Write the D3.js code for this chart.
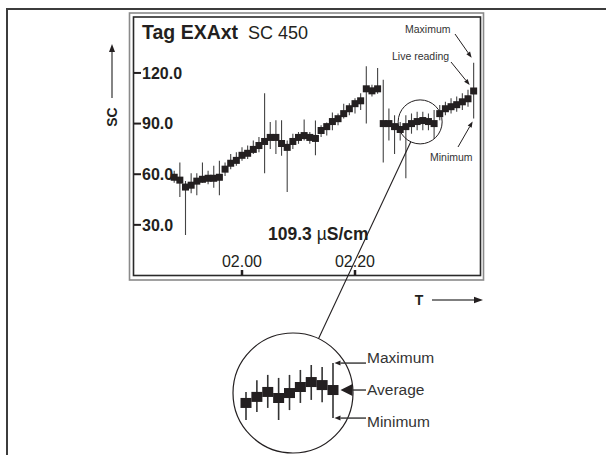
<!DOCTYPE html>
<html>
<head>
<meta charset="utf-8">
<script src="https://cdn.jsdelivr.net/npm/d3@7"></script>
<style>
	body { margin: 0; background: #fff; }
	svg { font-family: "Liberation Sans", Arial, Helvetica, sans-serif; }
</style>
</head>
<body>
<script>

	// minutes after midnight, one reading per minute
	var minutes = [108, 109, 110, 111, 112, 113, 114, 115, 116, 117, 118, 119, 120, 121, 122, 123, 124, 125,
		126, 127, 128, 129, 130, 131, 132, 133, 134, 135, 136, 137, 138, 139, 140, 141, 142, 143,
		144, 145, 146, 147, 148, 149, 150, 151, 152, 153, 154, 155, 156, 157, 158, 159, 160, 161];

	var average = [58.2, 56.5, 52.4, 53.5, 55.9, 57, 57.6, 57.6, 58.2, 63, 66.5, 68.2, 71.2, 72.4, 74.7, 77, 79.4, 81.8,
		81.8, 78.2, 75.9, 79.4, 81.8, 82.9, 81.8, 81.2, 85.9, 88.2, 91.2, 92.9, 95.9, 98.8, 101.8, 103.5, 110.6, 109.4,
		110.6, 90, 90, 88.2, 86.5, 88.2, 90, 91.2, 91.8, 91.2, 90, 95.9, 98.8, 100, 101.2, 102.9, 104.7, 109.3];

	var maximum = [62, 67, 56, 60.6, 60.6, 67, 62, 65, 68, 67, 72, 73, 76, 77, 80, 82, 108, 91,
		92, 92, 80, 84, 85, 92.4, 85, 91.8, 89, 90.6, 96.5, 96, 101.8, 102, 105, 108, 124, 113,
		122.9, 116, 99, 95, 91, 95, 96, 97, 97, 96, 98, 101, 103, 105, 106, 108, 110, 126];

	var minimum = [55, 46.5, 24, 48.8, 47.6, 55, 54, 52, 47.6, 59, 63, 65, 68, 69, 72, 73, 60.6, 75,
		72, 71, 49.4, 75, 78, 80, 78, 71.2, 82, 83, 86, 89, 93, 95, 96, 98, 90, 106,
		107.6, 67, 80, 72, 80, 57.6, 84, 86, 86, 86, 81, 92, 95, 96, 97, 98, 100, 93];

	var yTicks = [30, 60, 90, 120];
	var yTickLabels = ["30.0", "60.0", "90.0", "120.0"];
	var xTicks = [120, 140];
	var xTickLabels = ["02.00", "02.20"];

	// the enlarged detail in the big circle
	var zoomAverage = [86.2, 88.4, 90.2, 88, 89.8, 92, 93.8, 92.7, 90.9];
	var zoomMaximum = [90.2, 94.5, 96.4, 95.3, 96.4, 98.2, 100, 99.3, 100.7];
	var zoomMinimum = [80, 82.9, 84.4, 80, 83.6, 86.2, 87.3, 86.5, 80.7];

	var liveReading = 109.3;

	var ink = "#231f20";

	var data = minutes.map(function(m, i) {
		return { t: m, avg: average[i], hi: maximum[i], lo: minimum[i] };
	});

	var svg = d3.select("body").append("svg")
		.attr("width", 606)
		.attr("height", 455);

	function arrow(x1, y1, x2, y2, len, wid, color, sw) {
		var a = Math.atan2(y2 - y1, x2 - x1),
			bx = x2 - len * Math.cos(a),
			by = y2 - len * Math.sin(a),
			px = Math.sin(a) * wid / 2,
			py = -Math.cos(a) * wid / 2;
		svg.append("line")
			.attr("x1", x1).attr("y1", y1)
			.attr("x2", bx).attr("y2", by)
			.style("stroke", color)
			.style("stroke-width", sw);
		svg.append("path")
			.attr("d", "M" + x2 + "," + y2 + "L" + (bx + px) + "," + (by + py) + "L" + (bx - px) + "," + (by - py) + "Z")
			.style("fill", ink);
	}

	// outer page frame
	svg.append("rect")
		.attr("x", 7).attr("y", 9)
		.attr("width", 640).attr("height", 480)
		.style("fill", "none")
		.style("stroke", "#3c3c3c")
		.style("stroke-width", 2);

	// display frame, double line
	svg.append("rect")
		.attr("x", 129.5).attr("y", 13)
		.attr("width", 354).attr("height", 267)
		.style("fill", "none")
		.style("stroke", "#8a8a8a")
		.style("stroke-width", 1.6);

	svg.append("rect")
		.attr("x", 133.5).attr("y", 17)
		.attr("width", 347).attr("height", 258.5)
		.style("fill", "none")
		.style("stroke", "#2a2a2a")
		.style("stroke-width", 1.6);

	var x = d3.scaleLinear()
		.domain([120, 140])
		.range([242, 355]);

	var y = d3.scaleLinear()
		.domain([0, 150])
		.range([275.5, 22.3]);

	// title
	svg.append("text")
		.attr("x", 142)
		.attr("y", 38.5)
		.style("font-size", "19.5px")
		.style("font-weight", "bold")
		.style("fill", ink)
		.text("Tag EXAxt");

	svg.append("text")
		.attr("x", 248)
		.attr("y", 38.5)
		.style("font-size", "18px")
		.style("fill", ink)
		.text("SC 450");

	// y axis ticks
	var yg = svg.append("g").attr("class", "y axis");
	yg.selectAll("line")
		.data(yTicks)
		.enter().append("line")
		.attr("x1", 134).attr("x2", 141)
		.attr("y1", function(d) { return y(d); })
		.attr("y2", function(d) { return y(d); })
		.style("stroke", ink)
		.style("stroke-width", 2);

	yg.selectAll("text")
		.data(yTicks)
		.enter().append("text")
		.attr("x", 142)
		.attr("y", function(d) { return y(d); })
		.attr("dy", "0.36em")
		.style("font-size", "16px")
		.style("font-weight", "bold")
		.style("fill", ink)
		.text(function(d, i) { return yTickLabels[i]; });

	// x axis ticks
	var xg = svg.append("g").attr("class", "x axis");
	xg.selectAll("line")
		.data(xTicks)
		.enter().append("line")
		.attr("x1", function(d) { return x(d); })
		.attr("x2", function(d) { return x(d); })
		.attr("y1", 270).attr("y2", 275.5)
		.style("stroke", ink)
		.style("stroke-width", 2.5);

	xg.selectAll("text")
		.data(xTicks)
		.enter().append("text")
		.attr("x", function(d) { return x(d); })
		.attr("y", 266.5)
		.style("font-size", "16px")
		.style("text-anchor", "middle")
		.style("fill", ink)
		.text(function(d, i) { return xTickLabels[i]; });

	// live value
	var live = svg.append("text")
		.attr("x", 268)
		.attr("y", 240)
		.style("font-size", "17.5px")
		.style("font-weight", "bold")
		.style("fill", ink);
	live.append("tspan").text(liveReading.toFixed(1) + " ");
	live.append("tspan").style("font-weight", "normal").text("\u00b5");
	live.append("tspan").text("S/cm");

	// min / max bars and average blocks
	var candles = svg.selectAll("g.candle")
		.data(data)
		.enter().append("g")
		.attr("class", "candle");

	candles.append("line")
		.attr("x1", function(d) { return x(d.t); })
		.attr("x2", function(d) { return x(d.t); })
		.attr("y1", function(d) { return y(d.hi); })
		.attr("y2", function(d) { return y(d.lo); })
		.style("stroke", "#444")
		.style("stroke-width", 1.1);

	candles.append("rect")
		.attr("x", function(d) { return x(d.t) - 3.5; })
		.attr("y", function(d) { return y(d.avg) - 3.5; })
		.attr("width", 7)
		.attr("height", 7)
		.style("fill", ink);

	// labels for the last reading
	var last = data[data.length - 1],
		lx = x(last.t);

	var small = [
		{ text: "Maximum", x: 405, y: 33 },
		{ text: "Live reading", x: 392, y: 60 },
		{ text: "Minimum", x: 430, y: 161 }
	];

	svg.selectAll("text.note")
		.data(small)
		.enter().append("text")
		.attr("class", "note")
		.attr("x", function(d) { return d.x; })
		.attr("y", function(d) { return d.y; })
		.style("font-size", "10.5px")
		.style("fill", "#333")
		.text(function(d) { return d.text; });

	arrow(455, 34, lx - 2, y(last.hi) - 5, 6, 4.5, ink, 1);
	arrow(451, 62, lx - 4, y(last.avg) - 6, 6, 4.5, ink, 1);
	arrow(458, 147, lx - 1, y(last.lo) + 3, 6, 4.5, ink, 1);

	// axis names
	svg.append("text")
		.attr("transform", "translate(117,117) rotate(-90)")
		.style("font-size", "14px")
		.style("font-weight", "bold")
		.style("text-anchor", "middle")
		.style("fill", ink)
		.text("SC");
	arrow(112, 98, 112, 44, 8, 6, "#333", 1.2);

	svg.append("text")
		.attr("x", 419)
		.attr("y", 305)
		.style("font-size", "14px")
		.style("font-weight", "bold")
		.style("text-anchor", "middle")
		.style("fill", ink)
		.text("T");
	arrow(432, 300, 483, 300, 9, 6.5, "#555", 1.5);

	// magnifier
	var sc = { x: x(151) + 3, y: y(91), r: 22 },
		bc = { x: 293, y: 393, r: 60 };

	svg.append("circle")
		.attr("cx", sc.x).attr("cy", sc.y).attr("r", sc.r)
		.style("fill", "none")
		.style("stroke", ink)
		.style("stroke-width", 1);

	var dx = bc.x - sc.x, dy = bc.y - sc.y, dl = Math.sqrt(dx * dx + dy * dy);
	svg.append("line")
		.attr("x1", sc.x + dx / dl * sc.r).attr("y1", sc.y + dy / dl * sc.r)
		.attr("x2", bc.x - dx / dl * bc.r).attr("y2", bc.y - dy / dl * bc.r)
		.style("stroke", ink)
		.style("stroke-width", 1.1);

	svg.append("circle")
		.attr("cx", bc.x).attr("cy", bc.y).attr("r", bc.r)
		.style("fill", "none")
		.style("stroke", ink)
		.style("stroke-width", 1.2);

	var zx = d3.scaleLinear()
		.domain([0, zoomAverage.length - 1])
		.range([246, 333]);

	var zy = d3.scaleLinear()
		.domain([80, 100])
		.range([420, 365]);

	var zoomed = svg.selectAll("g.zoom")
		.data(zoomAverage)
		.enter().append("g")
		.attr("class", "zoom");

	zoomed.append("line")
		.attr("x1", function(d, i) { return zx(i); })
		.attr("x2", function(d, i) { return zx(i); })
		.attr("y1", function(d, i) { return zy(zoomMaximum[i]); })
		.attr("y2", function(d, i) { return zy(zoomMinimum[i]); })
		.style("stroke", "#333")
		.style("stroke-width", 1.6);

	zoomed.append("rect")
		.attr("x", function(d, i) { return zx(i) - 5.5; })
		.attr("y", function(d) { return zy(d) - 5; })
		.attr("width", 11)
		.attr("height", 10)
		.style("fill", ink);

	var zi = zoomAverage.length - 1,
		zl = zx(zi);

	arrow(366, zy(zoomMaximum[zi]), zl + 1.5, zy(zoomMaximum[zi]), 6, 5, "#333", 1.4);
	arrow(366, zy(zoomAverage[zi]), zl + 7.5, zy(zoomAverage[zi]), 12, 12, "#333", 1.4);
	arrow(366, zy(zoomMinimum[zi]), zl + 1.5, zy(zoomMinimum[zi]), 6, 5, "#333", 1.4);

	var big = [
		{ text: "Maximum", y: 362.5 },
		{ text: "Average", y: 394.5 },
		{ text: "Minimum", y: 427 }
	];

	svg.selectAll("text.big")
		.data(big)
		.enter().append("text")
		.attr("class", "big")
		.attr("x", 367)
		.attr("y", function(d) { return d.y; })
		.style("font-size", "15.5px")
		.style("fill", "#333")
		.text(function(d) { return d.text; });

</script>
</body>
</html>
